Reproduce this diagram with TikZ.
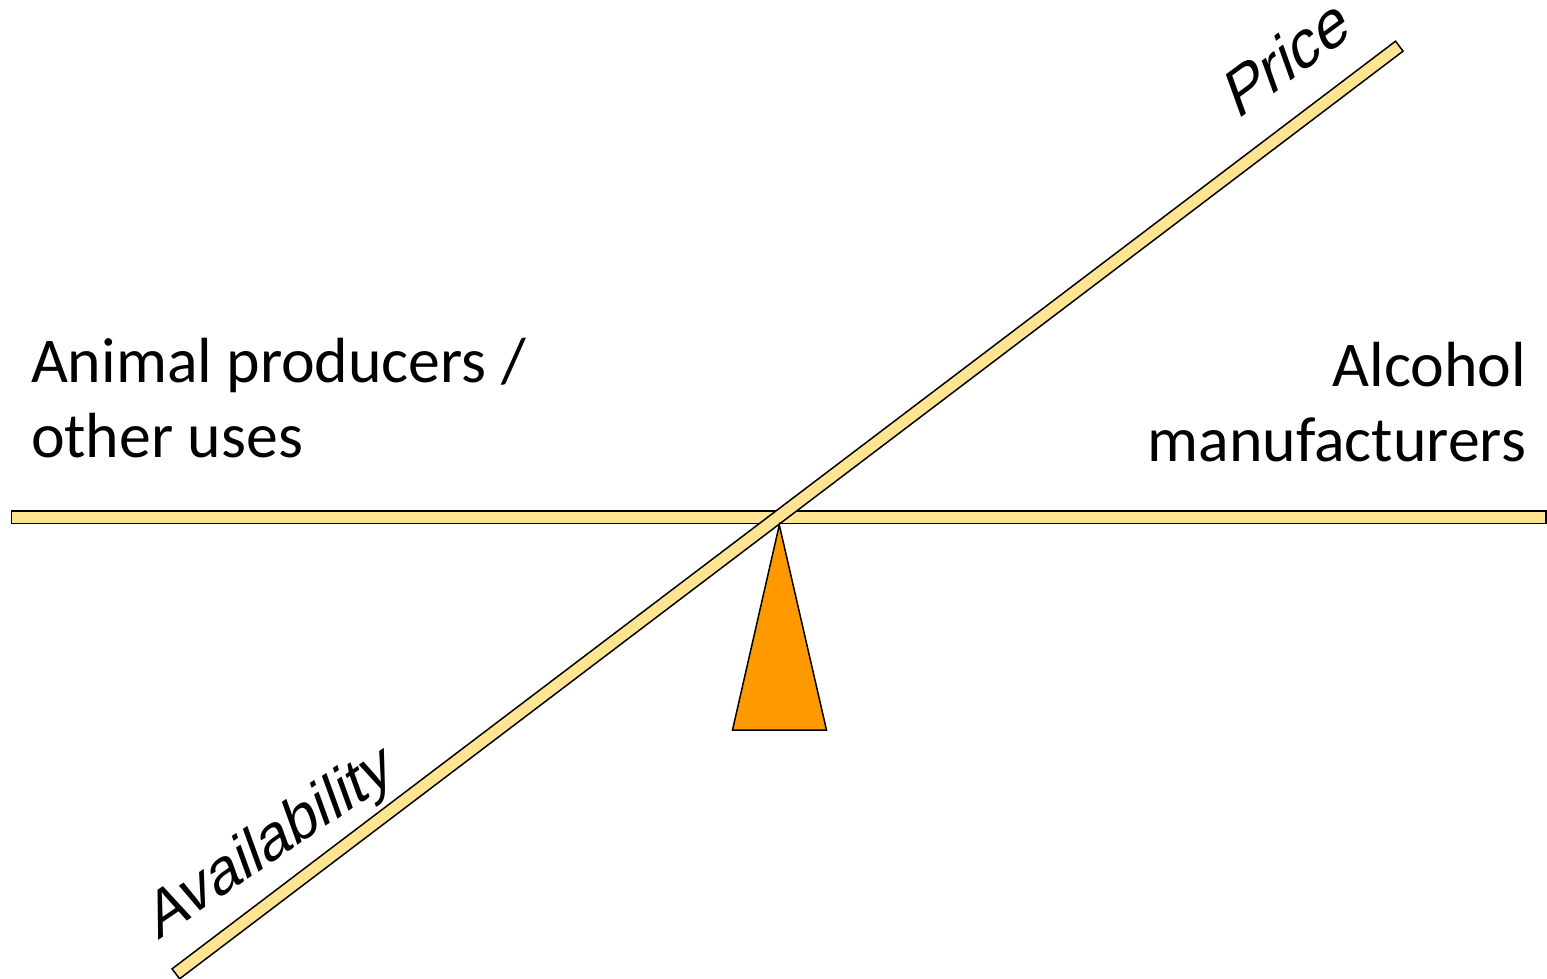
\documentclass[tikz,border=0pt]{standalone}
\usepackage{fontspec}
\setmainfont{Carlito}
\newfontfamily\arialfont{Liberation Sans}
\definecolor{barfill}{HTML}{FFE591}
\definecolor{pivotfill}{HTML}{FF9900}
\begin{document}
\begin{tikzpicture}[x=1pt,y=-1pt,
  bar/.style={draw=black,line width=1.5pt,fill=barfill,inner sep=0pt,outer sep=0pt,minimum height=12.5pt},
  sidelabel/.style={inner sep=0pt,outer sep=0pt,font=\fontsize{63.8}{75}\selectfont},
  slopelabel/.style={inner sep=0pt,outer sep=0pt,anchor=base west,font=\arialfont\fontsize{61}{73}\selectfont}]
\path[use as bounding box] (0,0) rectangle (1547,979);
% horizontal beam
\node[bar,minimum width=1534.5pt] (hbar) at (778.75,517.2) {};
% tilted beam
\node[bar,minimum width=1535.4pt,rotate=37.17] (tbar) at (787.55,510) {};
% pivot
\coordinate (apex) at (779.3,525);
\coordinate (bl) at (732.5,730);
\coordinate (br) at (826.5,730);
\draw[line width=1.5pt,fill=pivotfill,line join=miter] (apex) -- (br) -- (bl) -- cycle;
% side labels
\node[sidelabel,anchor=base west] (left1) at (31,382) {Animal producers /};
\node[sidelabel,anchor=base west] (left2) at (31,457) {other uses};
\node[sidelabel,anchor=base east] (right1) at (1526,386) {Alcohol};
\node[sidelabel,anchor=base east] (right2) at (1526,461) {manufacturers};
% sloped labels
\node[slopelabel,rotate=34,xslant=0.25] (avail) at (158,940) {Availability};
\node[slopelabel,rotate=36.5,xslant=0.3,font=\arialfont\fontsize{63}{75}\selectfont] (price) at (1237,121) {Price};
\end{tikzpicture}
\end{document}
